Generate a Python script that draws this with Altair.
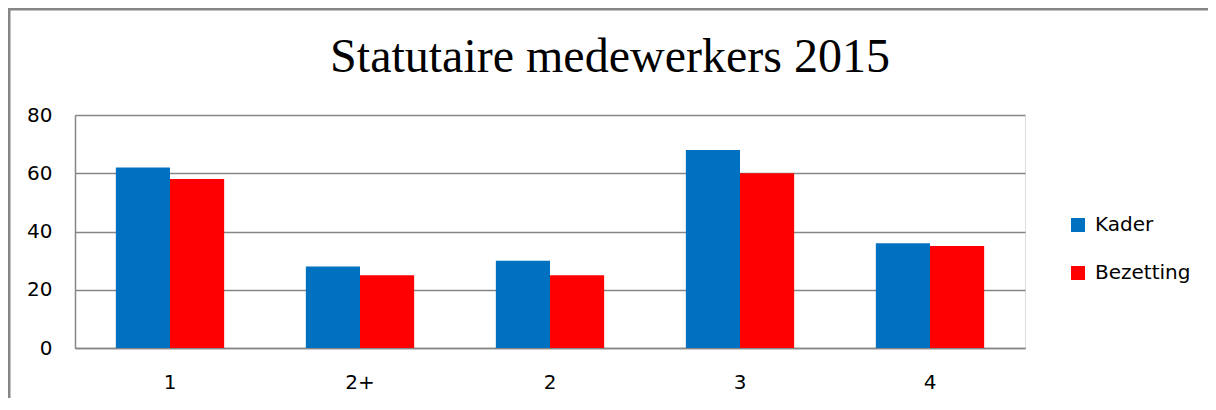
import altair as alt
import pandas as pd

categories = ["1", "2+", "2", "3", "4"]
kader = [62, 28, 30, 68, 36]
bezetting = [58, 25, 25, 60, 35]
series = ["Kader", "Bezetting"]
colors = ["#0070C0", "#FF0000"]
title_text = "Statutaire medewerkers 2015"
y_ticks = [0, 20, 40, 60, 80]

rows = []
for c, k, b in zip(categories, kader, bezetting):
    rows.append({"cat": c, "serie": "Kader", "value": k})
    rows.append({"cat": c, "serie": "Bezetting", "value": b})
df = pd.DataFrame(rows)

GRAY = "#868686"

bars = alt.Chart(df).mark_bar(cornerRadius=0).encode(
    x=alt.X(
        "cat:N", sort=categories,
        scale=alt.Scale(paddingInner=0.43, paddingOuter=0.215),
        axis=alt.Axis(title=None, labelAngle=0, ticks=False, domainColor=GRAY,
                      domainWidth=1.5, labelFont="DejaVu Sans", labelFontSize=20,
                      labelColor="black", labelPadding=24, grid=False),
    ),
    xOffset=alt.XOffset("serie:N", sort=series,
                        scale=alt.Scale(paddingInner=0, paddingOuter=0)),
    y=alt.Y(
        "value:Q", scale=alt.Scale(domain=[0, 80]),
        axis=alt.Axis(values=y_ticks, title=None, ticks=False, domainColor=GRAY,
                      domainWidth=1.5, gridColor=GRAY, gridWidth=1.5,
                      labelFont="DejaVu Sans", labelFontSize=20, labelColor="black",
                      labelPadding=23),
    ),
    color=alt.Color(
        "serie:N", sort=series,
        scale=alt.Scale(domain=series, range=colors),
        legend=alt.Legend(title=None, orient="none", legendX=993, legendY=100,
                          symbolType="square", symbolSize=196, symbolStrokeWidth=0,
                          labelFont="DejaVu Sans", labelFontSize=20, labelColor="black",
                          rowPadding=28, labelOffset=7, padding=0),
    ),
)

frame_df = pd.DataFrame({"k": [0]})
left_border = alt.Chart(frame_df).mark_rule(color=GRAY, strokeWidth=3).encode(
    x=alt.value(-66), y=alt.value(-107), y2=alt.value(290)
)
top_border = alt.Chart(frame_df).mark_rule(color=GRAY, strokeWidth=3).encode(
    x=alt.value(-67), x2=alt.value(1137), y=alt.value(-106)
)

chart = alt.layer(bars, left_border, top_border).properties(
    width=950,
    height=233,
    autosize=alt.AutoSizeParams(type="none"),
    padding={"left": 67, "top": 107, "right": 183, "bottom": 50},
    title=alt.TitleParams(title_text, font="Liberation Serif", fontSize=48,
                          fontWeight="normal", color="black", anchor="middle",
                          frame="group", dx=60, offset=-113, baseline="alphabetic"),
).configure_view(stroke=None).configure(background="white")

chart.save("out.html", embed_options={"renderer": "svg", "actions": False})
